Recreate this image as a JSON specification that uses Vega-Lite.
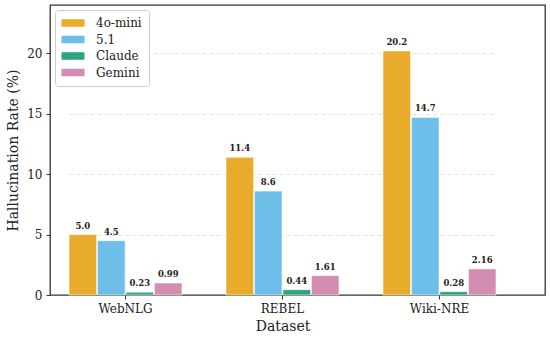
{
  "$schema": "https://vega.github.io/schema/vega-lite/v6.json",
  "width": 495,
  "height": 290,
  "autosize": {"type": "none"},
  "padding": {"left": 50, "top": 5, "right": 5, "bottom": 43},
  "background": "white",
  "config": {
    "font": "DejaVu Serif",
    "view": {"stroke": "#333333", "strokeWidth": 1.3},
    "axis": {"labelFont": "DejaVu Serif", "titleFont": "DejaVu Serif", "labelColor": "#222", "titleColor": "#222", "titleFontWeight": "normal", "domain": false, "tickColor": "#333", "tickSize": 4, "labelFontSize": 12, "titleFontSize": 14},
    "legend": {"labelFont": "DejaVu Serif", "labelFontSize": 12, "labelColor": "#222"}
  },
  "data": {
    "values": [
      {"dataset": "WebNLG", "model": "4o-mini", "rate": 5.0, "label": "5.0"},
      {"dataset": "WebNLG", "model": "5.1", "rate": 4.5, "label": "4.5"},
      {"dataset": "WebNLG", "model": "Claude", "rate": 0.23, "label": "0.23"},
      {"dataset": "WebNLG", "model": "Gemini", "rate": 0.99, "label": "0.99"},
      {"dataset": "REBEL", "model": "4o-mini", "rate": 11.4, "label": "11.4"},
      {"dataset": "REBEL", "model": "5.1", "rate": 8.6, "label": "8.6"},
      {"dataset": "REBEL", "model": "Claude", "rate": 0.44, "label": "0.44"},
      {"dataset": "REBEL", "model": "Gemini", "rate": 1.61, "label": "1.61"},
      {"dataset": "Wiki-NRE", "model": "4o-mini", "rate": 20.2, "label": "20.2"},
      {"dataset": "Wiki-NRE", "model": "5.1", "rate": 14.7, "label": "14.7"},
      {"dataset": "Wiki-NRE", "model": "Claude", "rate": 0.28, "label": "0.28"},
      {"dataset": "Wiki-NRE", "model": "Gemini", "rate": 2.16, "label": "2.16"}
    ]
  },
  "encoding": {
    "x": {
      "field": "dataset", "type": "nominal", "sort": ["WebNLG", "REBEL", "Wiki-NRE"],
      "scale": {"range": [19, 446], "paddingInner": 0.28, "paddingOuter": 0},
      "axis": {"title": "Dataset", "labelAngle": 0, "labelPadding": 4, "titlePadding": 5, "ticks": true}
    },
    "xOffset": {"field": "model", "type": "nominal", "sort": ["4o-mini", "5.1", "Claude", "Gemini"], "scale": {"paddingInner": 0.03, "paddingOuter": 0}},
    "y": {
      "field": "rate", "type": "quantitative",
      "scale": {"domain": [0, 24], "nice": false},
      "axis": {"title": "Hallucination Rate (%)", "values": [0, 5, 10, 15, 20], "grid": true, "gridDash": [4, 3], "gridColor": {"condition": {"test": "datum.value === 0", "value": "transparent"}, "value": "#dddddd"}, "gridWidth": 0.8, "titlePadding": 6, "labelPadding": 4}
    }
  },
  "layer": [
    {
      "mark": {"type": "bar", "stroke": "white", "strokeWidth": 0.6},
      "encoding": {
        "color": {
          "field": "model", "type": "nominal", "sort": ["4o-mini", "5.1", "Claude", "Gemini"],
          "scale": {"domain": ["4o-mini", "5.1", "Claude", "Gemini"], "range": ["#E9AB2C", "#6DBFEA", "#2AA57D", "#D48DB2"]},
          "legend": {"title": null, "orient": "top-left", "offset": 5, "padding": 7, "strokeColor": "#cccccc", "fillColor": "white", "cornerRadius": 3, "symbolType": "M-2.3,-0.75H2.3V0.75H-2.3Z", "symbolSize": 100, "symbolStrokeWidth": 0, "symbolOpacity": 1, "symbolOffset": 5, "labelOffset": 17, "rowPadding": 4.5}
        }
      }
    },
    {
      "mark": {"type": "text", "baseline": "bottom", "dy": -4, "fontSize": 8.5, "fontWeight": "bold", "font": "DejaVu Serif", "color": "#222"},
      "encoding": {"text": {"field": "label"}}
    }
  ]
}
